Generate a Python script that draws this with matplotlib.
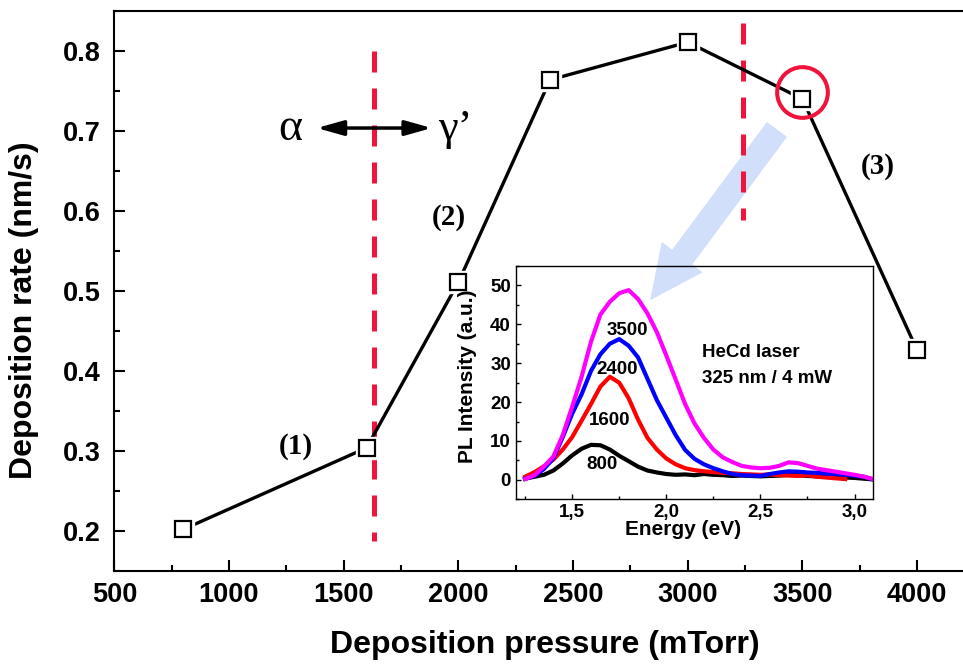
import matplotlib
matplotlib.use('Agg')
from matplotlib import pyplot as plt
from matplotlib.patches import FancyArrowPatch, ArrowStyle
from matplotlib.ticker import MultipleLocator, FuncFormatter

# main curve
pressure = [800, 1600, 2000, 2400, 3000, 3500, 4000]
rate = [0.202, 0.304, 0.511, 0.764, 0.811, 0.740, 0.426]

# PL spectra (inset)
energy = [1.25, 1.30, 1.35, 1.40, 1.45, 1.50, 1.55, 1.60, 1.65, 1.70,
          1.75, 1.80, 1.85, 1.90, 1.95, 2.00, 2.05, 2.10, 2.15, 2.20,
          2.25, 2.30, 2.35, 2.40, 2.45, 2.50, 2.55, 2.60, 2.65, 2.70,
          2.75, 2.80, 2.85, 2.90, 2.95, 3.00, 3.05, 3.10]
pl_800 = [0.3, 0.8, 1.3, 2.4, 4.2, 6.3, 8.0, 9.0, 8.9, 7.8,
          6.2, 4.8, 3.4, 2.4, 1.9, 1.5, 1.3, 1.4, 1.2, 1.5,
          1.3, 1.2, 1.0, 1.1, 1.0, 0.9, 1.0, 1.1, 1.3, 1.2,
          1.0, 0.9, 0.8, 0.7, 0.6, 0.5, 0.3, 0.1]
pl_1600 = [0.8, 2.0, 3.5, 5.2, 7.8, 11.0, 15.2, 19.5, 24.0, 26.5,
           25.0, 21.0, 15.5, 10.8, 7.8, 5.5, 4.0, 3.0, 2.5, 2.2,
           2.0, 1.8, 1.7, 1.5, 1.4, 1.3, 1.4, 1.2, 1.1, 1.0,
           1.2, 0.8, 0.6, 0.4, 0.2]
pl_2400 = [0.3, 1.0, 2.8, 5.5, 11.0, 17.0, 22.0, 28.0, 32.3, 35.0,
           36.2, 34.5, 31.5, 26.0, 20.5, 16.0, 11.5, 7.7, 5.4, 4.0,
           3.0, 2.2, 1.5, 1.2, 1.1, 1.0, 1.5, 1.9, 2.2, 2.1,
           1.9, 1.8, 1.6, 1.5, 1.3, 1.1, 0.8, 0.1]
pl_3500 = [0.2, 1.2, 3.4, 6.0, 11.5, 18.8, 26.5, 35.5, 42.5, 45.8,
           48.0, 48.8, 46.5, 42.8, 38.0, 32.0, 25.8, 19.5, 14.5, 10.8,
           7.8, 5.8, 4.6, 3.6, 3.2, 3.0, 3.1, 3.6, 4.5, 4.3,
           3.6, 2.9, 2.5, 2.1, 1.7, 1.3, 0.8, 0.2]

red = '#f0143c'
sans = 'Liberation Sans'
serif = 'Liberation Serif'

fig = plt.figure(figsize=(9.63, 6.66), dpi=100)
ax = fig.add_axes([0.1187, 0.1426, 0.8813, 0.8409])

ax.plot(pressure, rate, color='black', lw=2.4, zorder=4)
ax.plot(pressure, rate, ls='none', marker='s', ms=16, mfc='white', mec='white', zorder=5)
ax.plot(pressure, rate, ls='none', marker='s', ms=11, mfc='white', mec='black', mew=1.6, zorder=6)

# regime boundaries
ax.plot([1630, 1630], [0.8, 0.188], color=red, lw=3.6, ls=(0, (4.2, 3.2)), zorder=3)
ax.plot([3242, 3242], [0.8346, 0.5884], color=red, lw=3.6, ls=(0, (4.2, 3.2)), zorder=3)
ax.plot([3500], [0.7488], ls='none', marker='o', ms=36.5, mfc='none', mec=red, mew=2.9, zorder=7)

# big light-blue arrow towards inset
big = FancyArrowPatch((3389, 0.7019), (2836, 0.4884), mutation_scale=1,
                      arrowstyle=ArrowStyle('Simple', head_length=38.7, head_width=36.6, tail_width=18),
                      color='#d2dffa', lw=0, shrinkA=0, shrinkB=0, zorder=1)
ax.add_patch(big)

# alpha <-> gamma'
ax.annotate('', xy=(1383, 0.7037), xytext=(1884, 0.7037),
            arrowprops=dict(arrowstyle=ArrowStyle('<|-|>', head_length=1.6, head_width=0.45),
                            color='black', lw=2.5, shrinkA=0, shrinkB=0))
ax.text(1266, 0.6884, 'α', fontsize=33, family=serif, ha='center', va='baseline')
ax.text(1986, 0.6884, 'γ’', fontsize=32, family=serif, ha='center', va='baseline')

ax.text(1291, 0.3058, '(1)', fontsize=21, family=serif, weight='bold', ha='center', va='center')
ax.text(1960, 0.5915, '(2)', fontsize=21, family=serif, weight='bold', ha='center', va='center')
ax.text(3828, 0.655, '(3)', fontsize=21, family=serif, weight='bold', ha='center', va='center')

ax.set_xlim(500, 4200)
ax.set_ylim(0.15, 0.85)
ax.xaxis.set_major_locator(MultipleLocator(500))
ax.xaxis.set_minor_locator(MultipleLocator(250))
ax.yaxis.set_major_locator(MultipleLocator(0.1))
ax.yaxis.set_minor_locator(MultipleLocator(0.05))
ax.spines['right'].set_visible(False)
for s in ax.spines.values():
    s.set_linewidth(1.5)
ax.tick_params(which='both', direction='in', width=1.5, top=False, right=False)
ax.tick_params(which='major', length=8)
ax.tick_params(which='minor', length=4.5)
ax.tick_params(axis='y', pad=10)
ax.tick_params(axis='x', pad=8)
for lab in ax.get_xticklabels() + ax.get_yticklabels():
    lab.set_fontsize(19.5)
    lab.set_fontweight('bold')
    lab.set_family(sans)
ax.set_xlabel('Deposition pressure (mTorr)', fontsize=23, weight='bold', family=sans)
ax.set_ylabel('Deposition rate (nm/s)', fontsize=23, weight='bold', family=sans)
ax.xaxis.set_label_coords(0.5075, -0.105)
ax.yaxis.set_label_coords(-0.0887, 0.465)

# inset
ins = fig.add_axes([0.5355, 0.2503, 0.3714, 0.3503])
ins.set_facecolor('none')
ins.plot(energy, pl_800, color='black', lw=3.0)
ins.plot(energy[:len(pl_1600)], pl_1600, color='#ff0000', lw=3.0)
ins.plot(energy, pl_2400, color='#0000ff', lw=3.0)
ins.plot(energy, pl_3500, color='#ff00ff', lw=3.0)

ins.text(1.7925, 38.5, '3500', fontsize=13.5, weight='bold', family=sans, ha='center', va='center')
ins.text(1.7395, 28.35, '2400', fontsize=13.5, weight='bold', family=sans, ha='center', va='center')
ins.text(1.70, 15.25, '1600', fontsize=13.5, weight='bold', family=sans, ha='center', va='center')
ins.text(1.656, 3.87, '800', fontsize=13.5, weight='bold', family=sans, ha='center', va='center')
ins.text(2.191, 32.65, 'HeCd laser', fontsize=13.5, weight='bold', family=sans, ha='left', va='center')
ins.text(2.191, 26.0, '325 nm / 4 mW', fontsize=13.5, weight='bold', family=sans, ha='left', va='center')

ins.set_xlim(1.2, 3.1)
ins.set_ylim(-5, 55)
ins.xaxis.set_major_locator(MultipleLocator(0.5))
ins.xaxis.set_minor_locator(MultipleLocator(0.25))
ins.yaxis.set_major_locator(MultipleLocator(10))
ins.yaxis.set_minor_locator(MultipleLocator(5))
ins.xaxis.set_major_formatter(FuncFormatter(lambda v, p: ('%.1f' % v).replace('.', ',')))
for s in ins.spines.values():
    s.set_linewidth(1.0)
ins.tick_params(which='both', direction='in', width=1.0)
ins.tick_params(which='major', length=3.5)
ins.tick_params(which='minor', length=2)
ins.tick_params(axis='y', pad=3.4)
ins.tick_params(axis='x', pad=3.6)
for lab in ins.get_xticklabels() + ins.get_yticklabels():
    lab.set_fontsize(13.5)
    lab.set_fontweight('bold')
    lab.set_family(sans)
ins.set_xlabel('Energy (eV)', fontsize=15, weight='bold', family=sans)
ins.set_ylabel('PL Intensity (a.u.)', fontsize=15, weight='bold', family=sans)
ins.xaxis.set_label_coords(0.468, -0.09)
ins.yaxis.set_label_coords(-0.108, 0.526)

fig.savefig('out.png', dpi=100)
